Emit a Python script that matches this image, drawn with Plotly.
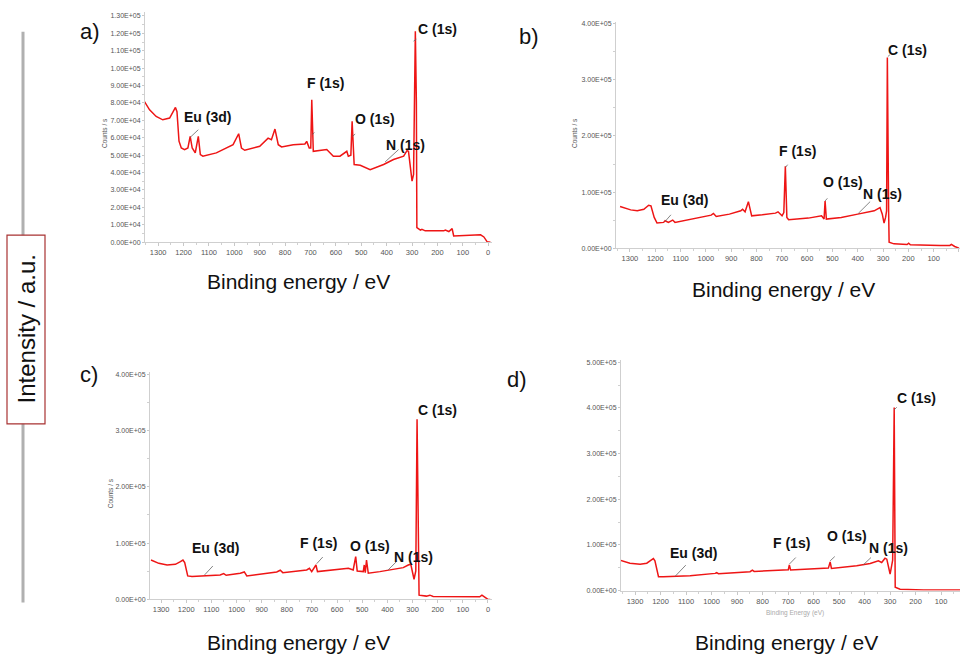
import plotly.graph_objects as go

# ---------------- data (binding energy eV, counts/s) ----------------
a_energy = [1354, 1334, 1308, 1282, 1255, 1240, 1232, 1226, 1218, 1209, 1196, 1183, 1174, 1166, 1154,
            1142, 1134, 1124, 1071, 1005, 983, 972, 959, 900, 867, 854, 840, 827, 814, 768, 722, 715,
            705, 699, 695, 689, 663, 636, 610, 584, 557, 551, 541, 536, 528, 504, 465, 412, 373, 333,
            320, 314, 300, 294, 287, 283, 281, 267, 261, 248, 175, 169, 155, 142, 136, 83, 30, 17, 4, -9]
a_counts = [80800, 76000, 72200, 70300, 71300, 75100, 77400, 75000, 58000, 54100, 53200, 54100, 60800,
            54100, 51300, 60800, 50300, 49400, 51300, 56000, 62300, 54100, 52800, 55100, 59800, 58900,
            65000, 56000, 54700, 56000, 56400, 57900, 54100, 54100, 81800, 52200, 52600, 53200, 49400,
            49400, 52200, 49400, 49900, 69400, 44600, 44200, 41700, 44600, 47500, 49400, 52600, 52200,
            35100, 38900, 121200, 80800, 8400, 6900, 7400, 6500, 6500, 6900, 6100, 7800, 3600, 3800,
            4200, 3000, 200, 0]

b_energy = [1339, 1297, 1271, 1245, 1226, 1217, 1204, 1193, 1167, 1161, 1148, 1131, 1122, 1050, 979,
            970, 959, 907, 862, 855, 845, 832, 819, 777, 725, 715, 699, 692, 686, 680, 673, 595, 543,
            533, 529, 524, 465, 400, 335, 312, 303, 296, 290, 286, 283, 278, 276, 257, 205, 199, 192,
            75, 36, 30, 17, 0]
b_counts = [74100, 68200, 66500, 69400, 76500, 75300, 54700, 44700, 45900, 48800, 45900, 50000, 45900,
            51800, 58800, 61800, 56500, 60600, 66500, 69400, 64700, 82900, 57600, 59400, 62400, 64700,
            57600, 63500, 145900, 54700, 50600, 53500, 57600, 51800, 84100, 51800, 54700, 60600, 66500,
            72400, 60600, 44700, 54700, 66500, 340000, 66500, 10600, 7600, 6500, 8800, 5900, 4700, 4700,
            6500, 2900, 0]

c_energy = [1340, 1309, 1276, 1243, 1223, 1213, 1206, 1194, 1177, 1117, 1065, 1051, 1041, 985, 969,
            959, 840, 826, 816, 721, 710, 701, 684, 678, 615, 555, 536, 526, 520, 496, 492, 488, 483,
            476, 430, 377, 337, 317, 307, 294, 287, 282, 276, 274, 245, 231, 218, 33, 24, 13, 0, -9]
c_counts = [70000, 64100, 61200, 62400, 67100, 70000, 65300, 41800, 40600, 41800, 43500, 45900, 42900,
            46500, 48800, 41800, 48800, 51800, 47600, 52400, 55300, 49400, 61200, 49400, 51800, 55300,
            52400, 75900, 50600, 49400, 61200, 47600, 70000, 46500, 49400, 53500, 56500, 61200, 62400,
            35900, 50600, 320000, 50600, 7600, 5900, 7600, 5300, 4700, 7600, 3500, 0, 0]

d_energy = [1356, 1320, 1280, 1254, 1237, 1228, 1222, 1208, 1189, 1084, 986, 980, 973, 849, 840, 833,
            699, 695, 690, 542, 535, 530, 431, 378, 346, 333, 320, 313, 300, 293, 290, 284, 280, 261,
            169, 25]
d_counts = [65700, 59900, 57800, 59900, 66400, 70000, 65000, 30300, 30300, 32500, 37500, 39000, 36800,
            41200, 44800, 41900, 45500, 56300, 44800, 49100, 62800, 48400, 54200, 59200, 65000, 61400,
            70800, 68600, 36100, 57800, 66400, 400700, 7200, 2900, 1400, 1400]

# ---------------- tick labels ----------------
x_tickvals = [1300, 1200, 1100, 1000, 900, 800, 700, 600, 500, 400, 300, 200, 100, 0]
x_ticktext = ["1300", "1200", "1100", "1000", "900", "800", "700", "600", "500", "400", "300", "200", "100", "0"]
a_ytickvals = [0, 10000, 20000, 30000, 40000, 50000, 60000, 70000, 80000, 90000, 100000, 110000, 120000, 130000]
a_yticktext = ["0.00E+00", "1.00E+04", "2.00E+04", "3.00E+04", "4.00E+04", "5.00E+04", "6.00E+04",
               "7.00E+04", "8.00E+04", "9.00E+04", "1.00E+05", "1.10E+05", "1.20E+05", "1.30E+05"]
bc_ytickvals = [0, 100000, 200000, 300000, 400000]
bc_yticktext = ["0.00E+00", "1.00E+05", "2.00E+05", "3.00E+05", "4.00E+05"]
d_ytickvals = [0, 100000, 200000, 300000, 400000, 500000]
d_yticktext = ["0.00E+00", "1.00E+05", "2.00E+05", "3.00E+05", "4.00E+05", "5.00E+05"]

# ---------------- peak labels (text, label energy, label counts, leader from/to) ----------------
peak_names = ["Eu (3d)", "F (1s)", "O (1s)", "N (1s)", "C (1s)"]
a_lab_x = [1104, 639, 445, 327, 199]
a_lab_y = [72200, 91300, 70900, 56000, 122400]
a_lead = [(1174, 60200, 1142, 64600), (692, 61800, 685, 63100), (535, 60800, 524, 62100),
          (406, 46100, 353, 53200), (294, 115500, 283, 116600)]
b_lab_x = [1083, 637, 459, 303, 205]
b_lab_y = [85900, 173500, 118200, 97000, 353500]
b_lead = [(1161, 47600, 1138, 59400), (685, 144100, 677, 148800), (529, 84100, 520, 88800),
          (398, 61800, 351, 82900), (281, 341700, 273, 344700)]
c_lab_x = [1082, 673, 469, 295, 202]
c_lab_y = [90600, 100000, 94700, 74700, 335900]
c_lead = [(1127, 43500, 1094, 59400), (681, 63500, 657, 75300), (397, 52400, 364, 67100)]
d_lab_x = [1069, 686, 470, 305, 198]
d_lab_y = [83000, 104700, 119100, 93900, 421000]
d_lead = [(1143, 31000, 1101, 55600), (695, 57800, 670, 72200), (535, 65000, 517, 74400),
          (405, 56300, 375, 72200), (284, 395700, 274, 401400)]

W, H = 960, 661
FONT = "Liberation Sans, Arial, sans-serif"
RED = "#EE1515"


def px(x):
    return x / W


def py(y):
    return 1 - y / H


# panel geometry (pixel box, axis ranges)
panels = [
    dict(name="a", e=a_energy, c=a_counts, box=(145, 492, 242, 10.5), xr=[1352, -15], yr=[0, 132000],
         yt=(a_ytickvals, a_yticktext), ym=5000, labx=a_lab_x, laby=a_lab_y, lead=a_lead),
    dict(name="b", e=b_energy, c=b_counts, box=(616, 960, 248, 20), xr=[1355, -4], yr=[0, 403500],
         yt=(bc_ytickvals, bc_yticktext), ym=50000, labx=b_lab_x, laby=b_lab_y, lead=b_lead),
    dict(name="c", e=c_energy, c=c_counts, box=(150, 492, 602, 373), xr=[1344, -16], yr=[0, 403500],
         yt=(bc_ytickvals, bc_yticktext), ym=50000, labx=c_lab_x, laby=c_lab_y, lead=c_lead),
    dict(name="d", e=d_energy, c=d_counts, box=(621, 960, 593, 361), xr=[1355, 26], yr=[0, 504300],
         yt=(d_ytickvals, d_yticktext), ym=50000, labx=d_lab_x, laby=d_lab_y, lead=d_lead),
]

fig = go.Figure()
layout = dict(width=W, height=H, margin=dict(l=0, r=0, t=0, b=0), paper_bgcolor="white",
              plot_bgcolor="white", showlegend=False, font=dict(family=FONT))
annotations = []
shapes = []

for i, p in enumerate(panels, start=1):
    sfx = "" if i == 1 else str(i)
    xa, ya = "x" + sfx, "y" + sfx
    fig.add_trace(go.Scatter(x=p["e"], y=p["c"], mode="lines", xaxis=xa, yaxis=ya,
                             line=dict(color=RED, width=1.5), hoverinfo="skip"))
    l, r, b, t = p["box"]
    layout["xaxis" + sfx] = dict(
        domain=[px(l), min(px(r), 1.0)], range=p["xr"], anchor=ya, showgrid=False, zeroline=False,
        showline=True, linecolor="#cfcfcf", linewidth=1, ticks="outside", ticklen=3, tickcolor="#c8c8c8",
        tickvals=x_tickvals, ticktext=x_ticktext, tickfont=dict(size=7.5, color="#555", family=FONT),
        minor=dict(ticks="outside", ticklen=2, tickcolor="#d0d0d0", dtick=50, tick0=0))
    layout["yaxis" + sfx] = dict(
        domain=[py(b), py(t)], range=p["yr"], anchor=xa, showgrid=False, zeroline=False,
        showline=True, linecolor="#cfcfcf", linewidth=1, ticks="outside", ticklen=2, tickcolor="#c8c8c8",
        tickvals=p["yt"][0], ticktext=p["yt"][1], tickfont=dict(size=7, color="#555", family=FONT),
        minor=dict(ticks="outside", ticklen=2, tickcolor="#d0d0d0", dtick=p["ym"], tick0=0))
    # peak labels
    for k in range(len(p["labx"])):
        annotations.append(dict(x=p["labx"][k], y=p["laby"][k], xref=xa, yref=ya,
                                text="<b>" + peak_names[k] + "</b>",
                                showarrow=False, font=dict(size=14, color="#111", family=FONT),
                                xanchor="center", yanchor="middle"))
    for (x0, y0, x1, y1) in p["lead"]:
        shapes.append(dict(type="line", xref=xa, yref=ya, x0=x0, y0=y0, x1=x1, y1=y1,
                           line=dict(color="#666", width=0.8)))

# panel letters and x titles
for txt, (x, y) in [("a)", (90, 30)), ("b)", (529, 35)), ("c)", (89, 375)), ("d)", (517, 380))]:
    annotations.append(dict(x=px(x), y=py(y), xref="paper", yref="paper", text=txt, showarrow=False,
                            font=dict(size=22, color="#111", family=FONT), xanchor="center", yanchor="middle"))
for (x, y) in [(298, 282), (783, 290), (298, 645), (786, 645)]:
    annotations.append(dict(x=px(x), y=py(y), xref="paper", yref="paper", text="Binding energy / eV",
                            showarrow=False, font=dict(size=21, color="#111", family=FONT),
                            xanchor="center", yanchor="middle"))
# small instrument axis titles
for (x, y) in [(104, 132), (574, 132), (110, 495)]:
    annotations.append(dict(x=px(x), y=py(y), xref="paper", yref="paper", text="Counts / s", textangle=-90,
                            showarrow=False, font=dict(size=6.5, color="#555", family=FONT),
                            xanchor="center", yanchor="middle"))
annotations.append(dict(x=px(795), y=py(616), xref="paper", yref="paper", text="Binding Energy (eV)",
                        showarrow=False, font=dict(size=6.5, color="#aaa", family=FONT),
                        xanchor="center", yanchor="middle"))

# left common intensity label: grey line with boxed rotated text
shapes.append(dict(type="line", xref="paper", yref="paper", x0=px(23), x1=px(23), y0=py(30), y1=py(605),
                   line=dict(color="#b0b0b0", width=3)))
shapes.append(dict(type="rect", xref="paper", yref="paper", x0=px(7), x1=px(45), y0=py(425), y1=py(235),
                   fillcolor="white", line=dict(color="#A83232", width=1.2)))
annotations.append(dict(x=px(27), y=py(330), xref="paper", yref="paper", text="Intensity / a.u.",
                        textangle=-90, showarrow=False, font=dict(size=24, color="#111", family=FONT),
                        xanchor="center", yanchor="middle"))

layout["annotations"] = annotations
layout["shapes"] = shapes
fig.update_layout(**layout)
fig.write_html("out.html")
